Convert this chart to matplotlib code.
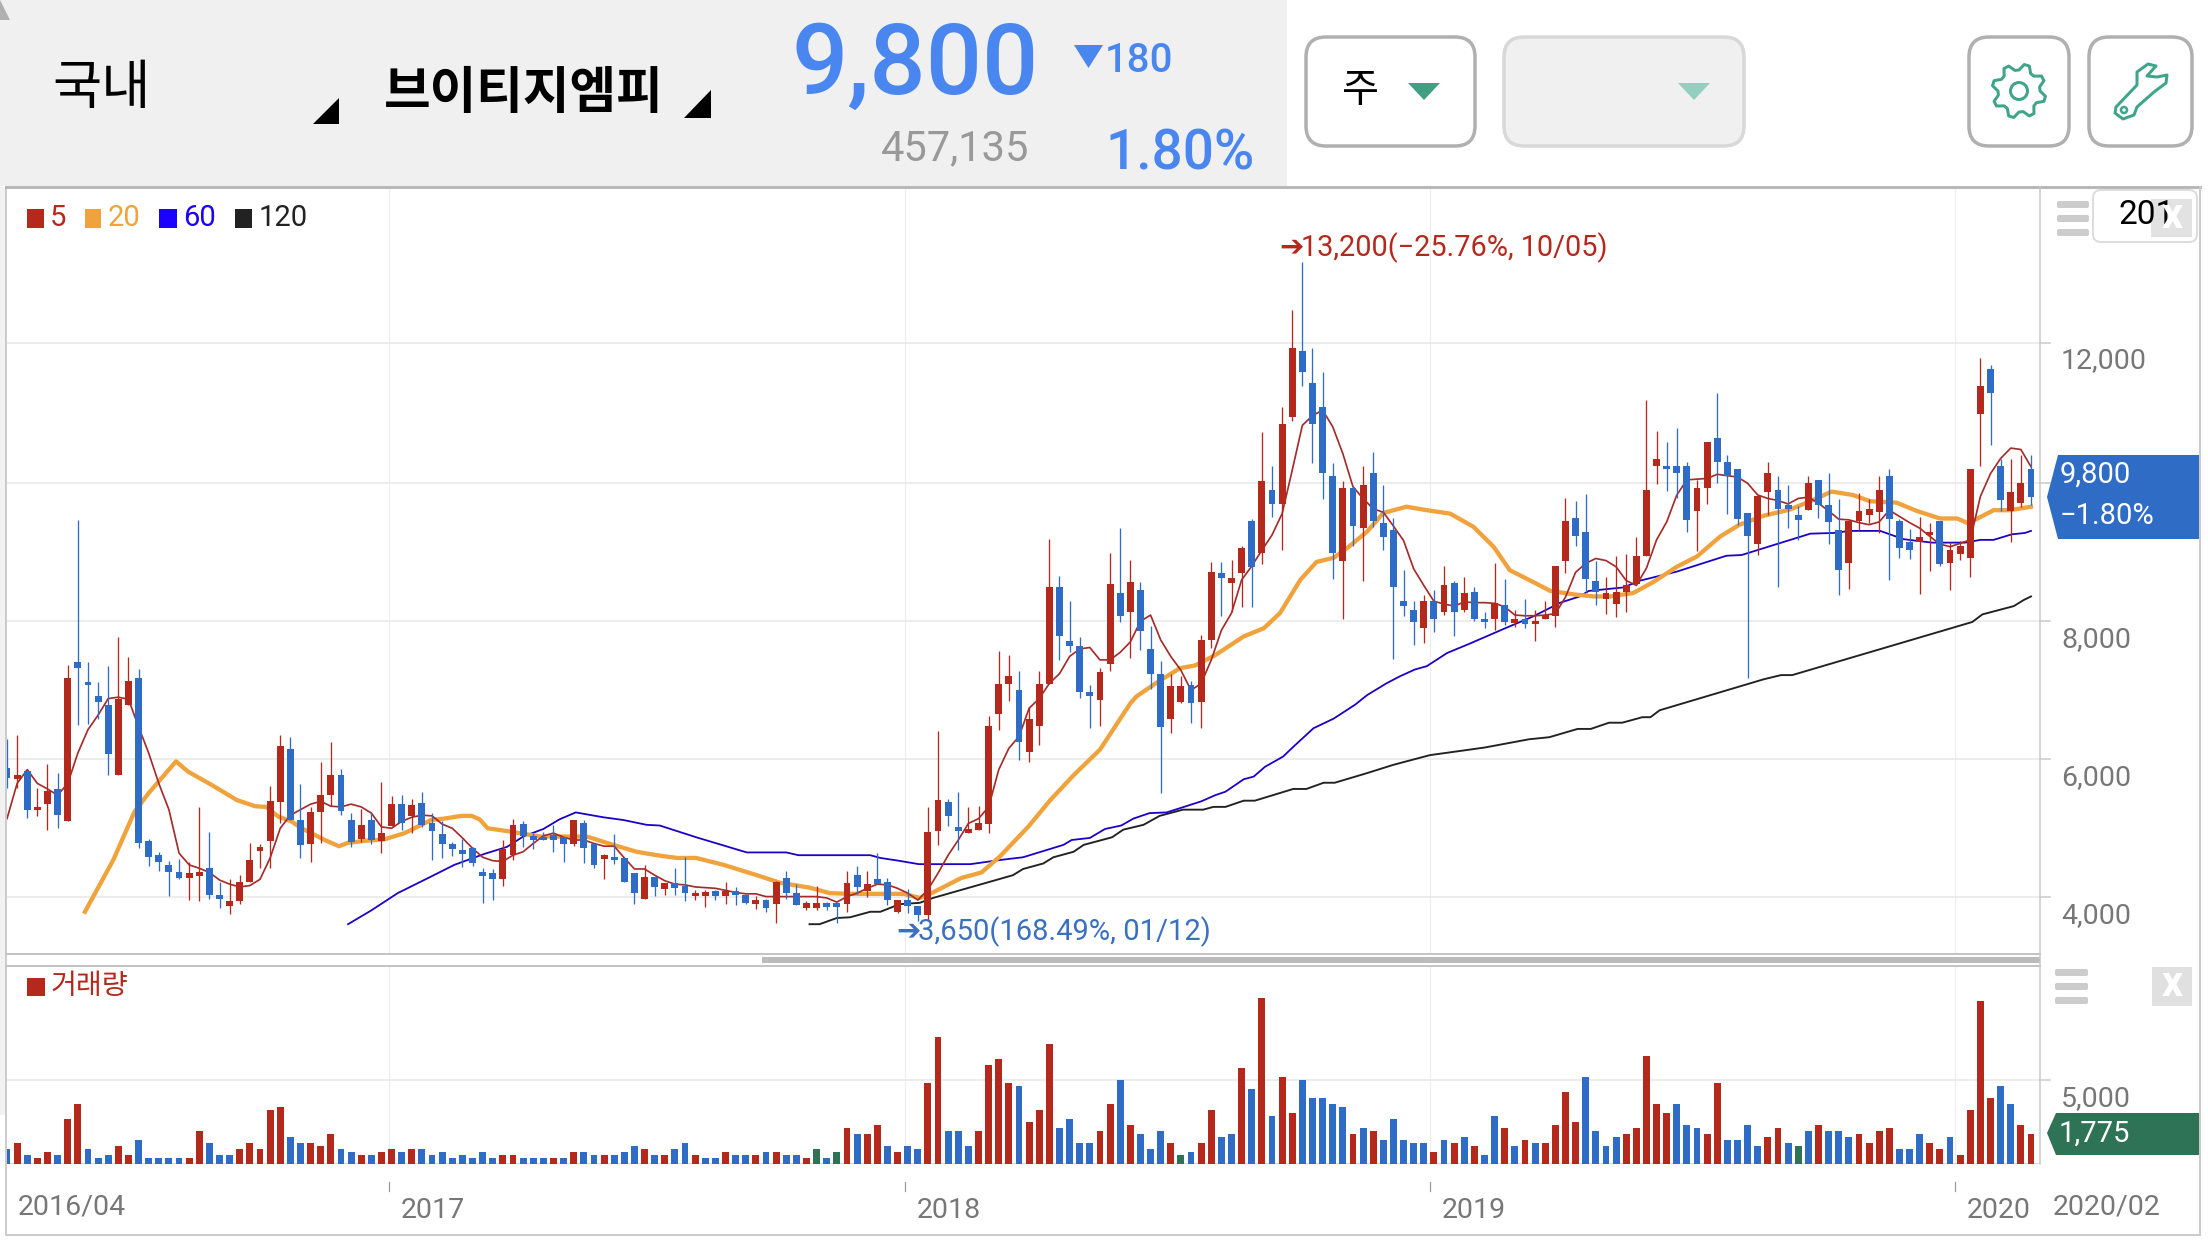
#!/usr/bin/python3
import numpy as np
import matplotlib
matplotlib.use('Agg')
import matplotlib.pyplot as plt
from matplotlib.patches import FancyBboxPatch, Polygon, Rectangle, Circle

plt.rcParams['font.family'] = ['Roboto', 'Noto Sans CJK KR', 'DejaVu Sans']

# weekly candles, one entry per week
opens = [5870,5720,5830,5270,5350,5570,5110,7410,7120,6920, 6790,5770,6790,7180,4820,4610,4470,4370,4280,4310,
	4430,4030,3870,3950,4220,4670,4820,5380,6150,5120, 4770,5240,5480,5770,5120,4850,5120,4820,5030,5350,
	5180,5370,5080,4920,4770,4690,4720,4370,4350,4270, 4610,5060,4890,4870,4900,4870,4770,5080,4770,4560,
	4590,4570,4350,3980,4290,4120,4210,4160,4020,4020, 4090,4020,4090,4030,3900,3960,3900,4280,4060,3850,
	3850,3920,3920,3900,4320,4090,4270,4220,3790,3960, 3870,3740,4960,5380,5020,4930,4980,5060,6660,7090,
	7000,6110,6480,7090,8500,7720,7640,6980,6860,7380, 8410,8140,8450,7600,7240,6580,6830,7080,6830,7730,
	8700,8560,8700,9450,8990,9900,9700,10960,11910,11450, 11100,10100,8880,9930,9350,10150,9420,9320,8290,8160,
	7900,8290,8130,8550,8160,8420,8040,8030,8230,7970, 8040,7960,8030,8070,8880,9490,9290,8590,8330,8250,
	8430,8540,8950,10250,10250,10250,10250,9600,9930,10660, 10310,10210,9570,9120,9870,9900,9690,9540,9610,10050,
	9690,9320,8850,9450,9540,9580,10110,9450,9150,9150, 9250,9450,8850,8980,8920,11010,11660,10250,9600,9720,
	10210]
closes = [5730,5770,5260,5310,5540,5190,7180,7320,7080,6830, 6080,6870,7140,4790,4580,4510,4370,4280,4350,4370,
	4030,3980,3950,4220,4540,4730,5400,6190,5120,4760, 5240,5480,5770,5250,4800,5050,4830,4930,5350,5080,
	5340,5050,4960,4770,4700,4630,4500,4310,4270,4700, 5050,4890,4830,4830,4830,4770,5120,4720,4470,4610,
	4540,4220,4060,4290,4150,4210,4140,4060,4060,4080, 4020,4090,4030,3920,3960,3850,4220,4060,3890,3920,
	3920,3860,3860,4210,4150,4190,4190,3960,3960,3870, 3740,4950,5410,5180,4960,4990,5080,6480,7090,7210,
	6250,6580,7090,8500,7790,7640,6980,6920,7270,8540, 8080,8570,7860,7240,6470,7060,7060,6820,7730,8720,
	8630,8630,9060,8790,10040,9700,10860,11960,11610,10860, 10150,8990,9930,9380,9970,9450,9220,8490,8220,7990,
	8290,8030,8520,8130,8410,8040,7990,8260,7990,8030, 7960,8010,8090,8800,9460,9230,8610,8420,8410,8430,
	8520,8940,9900,10350,10210,10150,9470,9930,10600,10310, 10110,9480,9240,9820,10150,9630,9630,9470,10000,9690,
	9440,8740,9450,9600,9630,9900,9480,9060,9030,9220, 9290,8830,9030,9090,10210,11410,11310,9760,9870,10000,
	9800]
highs = [6290,6350,5830,5580,5930,5800,7370,9470,7410,7120, 7350,7770,7480,7310,4840,4660,4530,4560,4510,5310,
	4950,4220,4270,4320,4790,4770,5610,6350,6320,5640, 5310,5960,6250,5860,5220,5280,5220,5670,5470,5480,
	5430,5530,5220,5110,4800,4850,4730,4430,4410,4830, 5140,5110,4930,4950,5050,4870,5120,5120,4770,4630,
	4920,4570,4350,4470,4290,4210,4430,4590,4110,4110, 4110,4220,4150,4050,4020,3980,4240,4380,4190,3950,
	4160,3930,3930,4380,4450,4380,4640,4280,3960,4120, 3870,5310,6410,5430,5530,5310,5320,6630,7570,7510,
	7280,6760,7280,9190,8660,8290,7770,7080,7320,8990, 9350,8890,8570,7930,7430,7240,7210,7140,7800,8860,
	8860,8890,9090,9480,10750,10250,11100,12510,13200,11960, 11610,10300,10040,9930,10250,10450,9970,9490,8750,8290,
	8380,8460,8800,8590,8640,8490,8130,8840,8610,8170, 8330,8160,8300,8800,9780,9740,9840,8880,8640,8940,
	8970,9220,11210,10760,10600,10800,10310,10050,10600,11310, 10410,10210,9570,9830,10310,10110,9980,9670,10110,10050,
	10150,9770,9450,9860,9770,10110,10210,9480,9340,9510, 9430,9450,9150,9160,10210,11820,11720,10350,10350,10410,
	10410]
lows = [5580,5580,5150,5180,4980,5010,5110,6490,6510,6580, 5770,5770,6790,4720,4450,4380,4020,4270,3960,3950,
	3980,3850,3760,3900,4220,4430,4430,5080,5120,4570, 4510,4790,5320,5190,4730,4800,4770,4640,5030,4980,
	4930,5020,4540,4570,4600,4440,4450,3920,3960,4160, 4540,4730,4700,4830,4660,4510,4740,4500,4430,4270,
	4480,4220,3900,3980,4020,4030,4030,3950,3960,3860, 3960,3900,3890,3900,3830,3790,3630,3980,3890,3820,
	3820,3820,3630,3790,4050,4000,4190,3890,3770,3770, 3650,3660,4760,5030,4690,4930,4980,4930,6430,6850,
	5990,5960,6210,7090,7440,7560,6890,6450,6480,7280, 7990,7470,7580,7020,5510,6380,6820,6530,6450,7610,
	8080,8140,8210,8210,8830,9510,9040,10900,11410,10300, 9770,8620,8030,9090,8590,9360,9040,7460,8070,7650,
	7680,7840,8090,7780,8130,8010,7900,7870,7940,7910, 7900,7720,8030,7910,8700,9090,8430,8230,8100,8060,
	8130,8540,8950,9990,9890,9790,9290,9020,9700,10000, 9560,9400,7180,8960,9540,8500,9350,9180,9610,9500,
	9120,8380,8470,9320,9430,9280,8600,8920,8900,8400, 8730,8800,8450,8890,8640,10250,10560,9600,9150,9660,
	9690]

# volume bars and their colours: r up, b down, g unchanged
volumes = [900,1250,540,360,720,540,2690,3590,900,360, 540,1080,540,1430,360,360,360,360,360,1970,
	1250,540,540,900,1250,900,3230,3410,1610,1250, 1250,1080,1790,900,720,540,540,720,900,720,
	900,900,540,720,360,540,360,720,360,540, 540,360,360,360,360,360,720,720,540,540,
	540,720,1080,900,540,540,900,1250,540,360, 360,720,540,540,540,720,720,540,540,360,
	900,360,720,2150,1790,1790,2330,1080,720,1080, 900,4840,7530,1970,1970,1080,1970,5920,6270,4840,
	4660,2510,3230,7170,2150,2690,1250,1250,1970,3590, 5020,2330,1790,900,1970,1250,540,720,1250,3230,
	1610,1790,5740,4480,9860,2870,5200,3050,5020,3940, 3940,3590,3410,1790,2150,1970,1430,2690,1430,1250,
	1250,720,1430,1250,1610,1080,540,2870,2150,1080, 1430,1250,1250,2330,4300,2510,5200,1970,1080,1610,
	1790,2150,6450,3590,3050,3590,2330,2150,1790,4840, 1430,1430,2330,1080,1610,2150,1250,1080,1970,2330,
	1970,1970,1610,1790,1250,1970,2150,900,900,1790, 1250,900,1610,540,3230,9680,3940,4660,3590,2330,
	1775]
vol_colors = ('brbrrbrrbb' 'brrbbbbbrr' 'bbbrrrrrbb' 'rrrbbrbrrb' 'rbbbbbbbbr'
	'rbbbrbrbbr' 'bbbrbrbbrb' 'brbbrbrbbr' 'gbgrbrrbrb' 'brrbbbrrrr'
	'brrrbbbbrr' 'brbbbrgbrr' 'bbrbrbrrbb' 'bbbrbrbbbb' 'brbrbrbbrb'
	'rbrrrrbbbb' 'rrrrrbbbrr' 'bbbbrrbgbr' 'bbbrrrrbbb' 'rrbrrrrbbr'
	'rb')

ma5_x = list(range(1, 202))
ma5_y = [5140,5650,5850,5650,5570,5480,5650,6090,6430,6640, 6880,6900,6870,6470,6090,5650,5270,4640,4470,4420,
	4360,4250,4190,4150,4170,4260,4570,5000,5190,5270, 5350,5390,5320,5310,5350,5310,5220,5020,5000,5100,
	5160,5190,5180,5060,5000,4860,4710,4580,4530,4520, 4610,4660,4780,4890,4930,4870,4830,4830,4780,4740,
	4740,4570,4410,4410,4320,4240,4190,4180,4150,4140, 4130,4100,4070,4050,4050,4010,4010,4010,4010,4010,
	4010,3990,3930,4010,4060,4130,4190,4180,4130,4060, 3960,4110,4350,4610,4830,5070,5140,5310,5850,6160,
	6330,6740,6880,7100,7240,7490,7600,7620,7440,7440, 7550,7700,8000,8090,7730,7490,7290,7000,7100,7440,
	7870,8120,8600,8800,9030,9250,9560,10190,10840,10980, 11060,10820,10430,9950,9780,9630,9580,9380,9170,8760,
	8520,8290,8250,8220,8280,8270,8270,8260,8210,8090, 8080,8080,8090,8110,8350,8710,8840,8910,8880,8790,
	8590,8520,8770,9180,9440,9830,10050,10060,10070,10130, 10110,10090,10000,9830,9780,9750,9700,9780,9800,9710,
	9600,9480,9470,9430,9400,9440,9610,9520,9430,9350, 9230,9120,9080,9130,9180,9810,10140,10360,10510,10490,
	10240]

ma20_x = [8.7,11.5,13.6,15,17.7,18.9,21.2,23.7,25.5,26.6,27.8,29.1,30.1,32.4,33.8,34.7,36.5,38.3,40.3,42.9,
	44.2,45.9,46.9,47.7,48.5,50.4,53.7,57,58.3,60.9,63.2,65.2,67.2,69.1,71.8,75.1,77.4,80.3,82.3,84.3,
	89.6,91.2,92.5,95.3,97.3,99.1,101.9,104.1,106.4,109,112,112.6,114.6,116.9,118.4,120.4,123.2,125.2,126.8,128.8,
	130.4,132.1,133.5,135.4,137,139.3,141.3,143.6,145.9,147.9,149.5,151.8,153.5,155.8,157.8,159.4,161.7,163.7,166,168,
	170.3,172.2,174.6,177.2,179.5,181.3,183.4,185.1,187.7,189.7,192,193.7,194.8,197.3,198.9,201]
ma20_y = [3790,4540,5240,5510,5970,5820,5630,5410,5320,5310,5170,5100,5000,4830,4740,4790,4820,4840,4930,5120,
	5140,5180,5180,5130,5000,4960,4880,4880,4880,4760,4660,4610,4570,4570,4470,4320,4210,4140,4060,4050,
	4050,3990,4070,4280,4360,4590,5020,5410,5770,6140,6810,6910,7110,7320,7360,7510,7780,7900,8120,8600,
	8860,8920,9070,9300,9570,9660,9610,9560,9370,9080,8740,8570,8440,8390,8360,8360,8410,8570,8790,8940,
	9230,9400,9530,9620,9760,9880,9830,9740,9720,9600,9490,9490,9420,9610,9610,9660]

ma60_x = [34.7,37,39.6,42.9,45.2,48.2,50.4,52,54,55.6,57.2,59.9,61.9,64.2,65.5,69.1,74.1,78,79.2,86.3,
	87.3,89.1,91.1,96.2,99.1,101.4,105.4,106.2,108,109.5,111.1,112.3,113.9,115.6,119,120.4,121.4,123.2,124.2,125.3,
	127.1,128.1,130.1,132.1,134.2,135.4,137.3,138.6,140.1,141.3,143.3,145.6,148.9,151.8,154.5,156.4,157.3,160.7,162.4,166,
	170.9,172.4,175.9,179.2,181.5,183.1,186.1,188.4,191.2,194.5,196,197.3,199.1,200.4,201]
ma60_y = [3610,3810,4060,4300,4470,4630,4730,4880,4990,5130,5230,5160,5120,5050,5040,4870,4650,4650,4610,4610,
	4570,4530,4480,4480,4540,4580,4760,4830,4860,4990,5040,5140,5220,5230,5390,5480,5530,5710,5750,5890,
	6040,6180,6450,6590,6790,6930,7100,7200,7300,7350,7540,7680,7890,8070,8270,8360,8440,8490,8590,8720,
	8950,8960,9120,9270,9280,9310,9310,9190,9140,9140,9180,9180,9260,9280,9310]

ma120_x = [80.3,81.3,83,84.3,86.3,87.3,89.2,91.2,92.5,100.4,101.4,103.4,104.4,106.4,107.4,110.2,111.3,113.3,114.9,117.2,
	119.2,120.2,121.4,123.2,124.3,128.1,129.4,131.1,132.2,135.4,138,141.6,147,151.4,153.4,156.2,157.5,159.3,160.6,162.6,
	163.4,164.3,174.6,176.3,177.4,195.2,196.2,199.3,200.3,201]
ma120_y = [3610,3610,3700,3710,3790,3790,3900,3920,3990,4320,4410,4490,4580,4660,4760,4870,4980,5050,5180,5270,
	5270,5310,5310,5400,5400,5570,5570,5660,5660,5800,5920,6060,6170,6290,6320,6440,6440,6530,6530,6610,
	6610,6710,7160,7220,7220,7990,8100,8220,8310,8360]

price_ticks = [4000, 6000, 8000, 10000, 12040]
price_labels = ['4,000', '6,000', '8,000', '10000', '12,000']
year_ticks = [38.7, 89.7, 141.6, 193.5]
year_labels = ['2017', '2018', '2019', '2020']

RED = '#b5281c'
BLUE = '#2e6cc6'
GREEN = '#2f7357'
ORANGE = '#f0a23c'
HEAD_BLUE = '#4a86f0'
W, H = 2208, 1242
PX = 0.72	# points per pixel at dpi 100

fig = plt.figure(figsize=(W / 100, H / 100), dpi=100, facecolor='white')

def make_axes(top, bottom):
	a = fig.add_axes([6 / W, 1 - bottom / H, (2040 - 6) / W, (bottom - top) / H])
	a.set_xlim(0.9, 201.89)
	for s in a.spines.values():
		s.set_visible(False)
	a.set_xticks([])
	a.set_yticks([])
	return a

ax = make_axes(187, 954)
ax.set_ylim(3178, 14294)
xs = np.arange(1, len(opens) + 1)

for t in year_ticks:
	ax.axvline(t, color='#eeeeee', lw=1.2 * PX, zorder=1)
for t, lab in zip(price_ticks, price_labels):
	ax.axhline(t, color='#e8e8e8', lw=1.5 * PX, zorder=1)
	if lab != '10000':
		ax.annotate(lab, (1, t), xycoords=('axes fraction', 'data'), xytext=(21, -18),
			textcoords='offset pixels', va='center', fontsize=20.5, color='#777777')
	ax.plot([1, 1 + 10 / 2034], [t, t], transform=ax.get_yaxis_transform(), color='#c8c8c8',
		lw=1.5 * PX, clip_on=False)

ax.plot(ma120_x, ma120_y, color='#222222', lw=1.9 * PX, zorder=2)
ax.plot(ma60_x, ma60_y, color='#1a00c8', lw=1.8 * PX, zorder=2)
ax.plot(ma20_x, ma20_y, color=ORANGE, lw=4.3 * PX, zorder=2)
ax.plot(ma5_x, ma5_y, color='#a52a2a', lw=1.7 * PX, zorder=2)

for x, o, c, h, l in zip(xs, opens, closes, highs, lows):
	col = RED if c >= o else BLUE
	ax.vlines(x, l, h, color=col, lw=1.3 * PX, zorder=3)
	ax.bar(x, abs(c - o), width=0.68, bottom=min(o, c), color=col, zorder=4)

ax_vol = make_axes(966, 1164)
ax_vol.set_ylim(0, 11786)
for t in year_ticks:
	ax_vol.axvline(t, color='#eeeeee', lw=1.2 * PX, zorder=1)
	ax_vol.plot([t, t], [-18 / 198, -27 / 198], transform=ax_vol.get_xaxis_transform(),
		color='#999999', lw=1.2 * PX, clip_on=False)
ax_vol.axhline(5000, color='#e8e8e8', lw=1.5 * PX, zorder=1)
ax_vol.axhline(0, color='#cccccc', lw=1.5 * PX, zorder=1)
ax_vol.plot([1, 1 + 10 / 2034], [5000, 5000], transform=ax_vol.get_yaxis_transform(), color='#c8c8c8',
	lw=1.5 * PX, clip_on=False)
ax_vol.annotate('5,000', (1, 5000), xycoords=('axes fraction', 'data'), xytext=(21, -19),
	textcoords='offset pixels', va='center', fontsize=20.5, color='#777777')
cmap = {'r': RED, 'b': BLUE, 'g': GREEN}
ax_vol.bar(xs, volumes, width=0.68, color=[cmap[c] for c in vol_colors], zorder=3)
for t, lab in zip(year_ticks, year_labels):
	ax_vol.annotate(lab, (t, 0), xycoords=('data', 'axes fraction'), xytext=(12, -46),
		textcoords='offset pixels', va='center', fontsize=20.5, color='#777777')

# everything else is page furniture, drawn in pixel coordinates on a top layer
ui = fig.add_axes([0, 0, 1, 1], zorder=5)
ui.set_xlim(0, W)
ui.set_ylim(H, 0)
ui.axis('off')
ui.patch.set_alpha(0)

def txt(x, y, s, size, color='black', ha='left', **kw):
	ui.text(x, y + 2.5, s, fontsize=size, color=color, ha=ha, va='center', **kw)

def poly(pts, color):
	ui.add_patch(Polygon(pts, closed=True, facecolor=color, edgecolor='none'))

def rect(x0, y0, x1, y1, color):
	ui.add_patch(Rectangle((x0, y0), x1 - x0, y1 - y0, facecolor=color, edgecolor='none'))

def button(x0, y0, x1, y1, face, edge):
	ui.add_patch(FancyBboxPatch((x0 + 16, y0 + 16), x1 - x0 - 32, y1 - y0 - 32,
		boxstyle='round,pad=16,rounding_size=20', facecolor=face, edgecolor=edge, lw=3.5 * PX))

# header
rect(0, 0, 1287, 186, '#f0f0f0')
poly([(0, 0), (10, 20), (0, 20)], '#b0b0b0')
txt(52, 87.5, '국내', 38.5)
poly([(339, 98), (339, 124), (313, 124)], 'black')
txt(384, 91.5, '브이티지엠피', 36.5, weight='bold')
poly([(711, 90), (711, 118), (684, 118)], 'black')
txt(792, 64.5, '9,800', 71.5, color=HEAD_BLUE, weight='medium')
poly([(1074, 45), (1103, 45), (1088.5, 68)], HEAD_BLUE)
txt(1105, 58, '180', 29, color=HEAD_BLUE, weight='medium')
txt(881, 146, '457,135', 30, color='#999999')
txt(1105, 151, '1.80%', 39.5, color=HEAD_BLUE, weight='medium')

button(1306, 37, 1475, 146, 'white', '#b0b0b0')
txt(1360, 88, '주', 29, ha='center')
poly([(1408, 83), (1440, 83), (1424, 100)], '#3f9f80')
button(1504, 37, 1744, 146, '#f0f0f0', '#d8d8d8')
poly([(1678, 83), (1710, 83), (1694, 100)], '#93cfc0')
button(1969, 37, 2069, 146, 'white', '#b0b0b0')
button(2089, 37, 2192, 146, 'white', '#b0b0b0')

# gear icon
ang = np.linspace(0, 2 * np.pi, 8 * 4, endpoint=False) + np.pi / 8 - np.pi / 16
rad = np.tile([27, 27, 21, 21], 8)
ui.add_patch(Polygon(np.c_[2019 + rad * np.cos(ang), 91 + rad * np.sin(ang)], closed=True,
	facecolor='none', edgecolor='#3fa58a', lw=3 * PX, joinstyle='round'))
ui.add_patch(Circle((2019, 91), 8.5, facecolor='none', edgecolor='#3fa58a', lw=3 * PX))

# wrench icon
ui.add_patch(Polygon([(2116, 107), (2115, 113), (2123, 119), (2134, 115), (2137, 107), (2154, 92),
	(2166, 83), (2167, 75), (2157, 77), (2147, 76), (2156, 66), (2148, 64), (2137, 72), (2137, 85)],
	closed=True, facecolor='none', edgecolor='#3fa58a', lw=3 * PX, joinstyle='round'))
ui.add_patch(Circle((2124, 110), 3, facecolor='none', edgecolor='#3fa58a', lw=2.5 * PX))

# chart frame
rect(0, 187, 6, 1115, '#f2f2f2')
ui.plot([6, 6], [187, 1235], color='#cccccc', lw=2 * PX)
ui.plot([6, 2200], [187, 187], color='#b8b8b8', lw=3 * PX)
ui.plot([2200, 2200], [187, 1235], color='#cccccc', lw=2 * PX)
ui.plot([6, 2200], [1235, 1235], color='#cccccc', lw=2 * PX)
ui.plot([6, 2040], [954, 954], color='#c4c4c4', lw=2 * PX)
ui.plot([6, 2040], [966, 966], color='#c4c4c4', lw=2 * PX)
rect(762, 957, 2040, 963, '#bbbbbb')
ui.plot([2040, 2040], [187, 1164], color='#c8c8c8', lw=1.5 * PX)

# legends
legend_sq = [(27, 44, RED), (85, 101, ORANGE), (159, 177, '#1a00ff'), (235, 252, '#222222')]
for x0, x1, col in legend_sq:
	rect(x0, 209, x1, 228, col)
txt(50, 215, '5', 21, color=RED)
txt(108, 215, '20', 21, color=ORANGE)
txt(183, 215, '60', 21, color='#1a00ff')
txt(259, 215, '120', 21, color='#222222')
rect(27, 978, 45, 996, RED)
txt(51, 984, '거래량', 20.3, color=RED)

# high / low call-outs
txt(1279, 245, '\u2794', 21, color=RED, family='DejaVu Sans')
txt(1301, 245, '13,200(\u221225.76%, 10/05)', 20.8, color=RED)
txt(896, 929, '\u2794', 21, color='#3a70c0', family='DejaVu Sans')
txt(918, 929, '3,650(168.49%, 01/12)', 21, color='#3a70c0')

# value tags
poly([(2047, 497), (2058, 455), (2200, 455), (2200, 539), (2058, 539)], BLUE)
txt(2060, 472, '9,800', 21, color='white')
txt(2060, 514, '\u22121.80%', 21, color='white')
poly([(2047, 1133), (2056, 1113), (2200, 1113), (2200, 1155), (2056, 1155)], GREEN)
txt(2059, 1131, '1,775', 21, color='white')

# panel controls
for y0 in (201, 215, 229):
	ui.add_patch(FancyBboxPatch((2058, y0 + 1), 30, 5, boxstyle='round,pad=1,rounding_size=2',
		facecolor='#cccccc', edgecolor='none'))
for y0 in (969, 983, 997):
	ui.add_patch(FancyBboxPatch((2056, y0 + 1), 31, 5, boxstyle='round,pad=1,rounding_size=2',
		facecolor='#cccccc', edgecolor='none'))
ui.add_patch(FancyBboxPatch((2097, 194), 96, 44, boxstyle='round,pad=4,rounding_size=8',
	facecolor='white', edgecolor='#dddddd', lw=2 * PX))
txt(2118, 212, '201', 24)
ui.add_patch(Rectangle((2151, 199), 41, 38, facecolor='#dddddd', alpha=0.85, edgecolor='none'))
txt(2172, 214, 'x', 30, color='white', ha='center', weight='bold')
rect(2152, 967, 2192, 1006, '#e0e0e0')
txt(2172, 982, 'x', 30, color='white', ha='center', weight='bold')

# outer date labels
txt(18, 1205, '2016/04', 20.5, color='#777777')
txt(2053, 1205, '2020/02', 20.5, color='#777777')

fig.savefig('out.png', dpi=100)
